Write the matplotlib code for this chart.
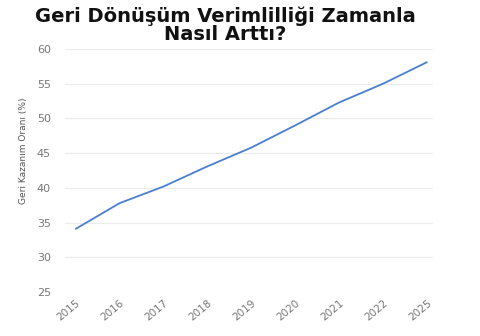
import matplotlib
matplotlib.use('Agg')
import matplotlib.pyplot as plt

# data
years = ['2015', '2016', '2017', '2018', '2019', '2020', '2021', '2022', '2025']
rates = [34.1, 37.8, 40.2, 43.1, 45.8, 49.0, 52.3, 55.0, 58.1]
yticks = [25, 30, 35, 40, 45, 50, 55, 60]

title = 'Geri Dönüşüm Verimlilliği Zamanla\nNasıl Arttı?'
ylabel = 'Geri Kazanım Oranı (%)'

fig = plt.figure(figsize=(4.8, 3.36), dpi=100)
ax = fig.add_axes([0.135, 0.131, 0.767, 0.723])

x = list(range(len(years)))
ax.plot(x, rates, color='#4a7fd0', linewidth=1.3, solid_capstyle='round')

ax.set_xlim(-0.25, len(years) - 1 + 0.14)
ax.set_ylim(25, 60)
ax.set_yticks(yticks)
ax.set_xticks(x)
ax.set_xticklabels(years, rotation=40, ha='right', rotation_mode='anchor')

ax.grid(axis='y', color='#ececec', linewidth=0.8)
ax.set_axisbelow(True)
for s in ax.spines.values():
    s.set_visible(False)
ax.tick_params(axis='y', length=0, pad=10, labelsize=8, labelcolor='#777777')
ax.tick_params(axis='x', length=0, pad=4, labelsize=7.5, labelcolor='#777777')

fig.text(0.048, 1 - 151 / 336, ylabel, rotation=90, ha='center', va='center',
         fontsize=6.5, color='#555555',
         family=['Liberation Sans Narrow', 'DejaVu Sans'])

fig.text(0.47, 1 - 6 / 336, title, ha='center', va='top', fontsize=14,
         fontweight='bold', color='#111111', linespacing=1.0)

fig.savefig('out.png', dpi=100)
